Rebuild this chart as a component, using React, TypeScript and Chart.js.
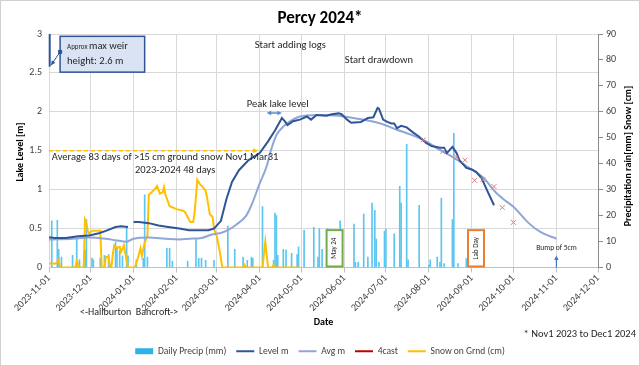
import React, { useEffect, useRef } from 'react';
import { Chart, registerables } from 'chart.js';
Chart.register(...registerables);

const FONT = 'Carlito, Lato, "Liberation Sans", sans-serif';

// ---------- data ----------
const tickLabels = ['2023-11-01','2023-12-01','2024-01-01','2024-02-01','2024-03-01','2024-04-01','2024-05-01','2024-06-01','2024-07-01','2024-08-01','2024-09-01','2024-10-01','2024-11-01','2024-12-01'];

const levelDates = ['2023-11-01','2023-11-05','2023-11-13','2023-11-22','2023-11-30','2023-12-07','2023-12-12','2023-12-19','2023-12-23','2023-12-28','2023-12-30','2024-01-01','2024-01-05','2024-01-12','2024-01-19','2024-01-26','2024-02-03','2024-02-10','2024-02-17','2024-02-24','2024-02-28','2024-03-04','2024-03-08','2024-03-12','2024-03-17','2024-03-24','2024-04-01','2024-04-07','2024-04-12','2024-04-17','2024-04-19','2024-04-21','2024-04-25','2024-04-30','2024-05-05','2024-05-08','2024-05-12','2024-05-19','2024-05-23','2024-05-28','2024-05-30','2024-06-03','2024-06-06','2024-06-13','2024-06-18','2024-06-22','2024-06-25','2024-06-26','2024-06-29','2024-07-02','2024-07-05','2024-07-07','2024-07-09','2024-07-12','2024-07-16','2024-07-21','2024-07-25','2024-07-30','2024-08-03','2024-08-09','2024-08-12','2024-08-14','2024-08-18','2024-08-21','2024-08-23','2024-08-28','2024-09-01','2024-09-04','2024-09-08','2024-09-12','2024-09-17'];
const levelValues = [0.39,0.38,0.38,0.40,0.41,0.44,0.47,0.52,0.53,0.52,null,0.585,0.585,0.57,0.54,0.52,0.50,0.48,0.48,0.48,0.50,0.60,0.88,1.10,1.25,1.38,1.47,1.62,1.76,1.92,1.88,1.83,1.88,1.90,1.94,1.90,1.96,1.95,1.97,1.98,1.97,1.90,1.86,1.87,1.92,1.93,2.05,2.04,1.90,1.87,1.85,1.85,1.79,1.82,1.80,1.73,1.68,1.60,1.56,1.54,1.54,1.47,1.55,1.47,1.38,1.28,1.26,1.23,1.15,0.99,0.80];

const avgDates = ['2023-11-01','2023-11-18','2023-11-30','2023-12-12','2023-12-19','2023-12-27','2024-01-01','2024-01-12','2024-01-24','2024-02-03','2024-02-10','2024-02-19','2024-02-26','2024-03-05','2024-03-10','2024-03-15','2024-03-22','2024-03-26','2024-04-01','2024-04-06','2024-04-09','2024-04-13','2024-04-18','2024-04-23','2024-04-30','2024-05-12','2024-05-28','2024-06-11','2024-06-27','2024-07-09','2024-07-20','2024-07-30','2024-08-07','2024-08-18','2024-08-30','2024-09-09','2024-09-18','2024-09-25','2024-10-01','2024-10-12','2024-10-21','2024-11-01'];
const avgValues = [0.36,0.37,0.385,0.37,0.35,0.33,0.37,0.385,0.37,0.36,0.37,0.38,0.42,0.45,0.49,0.55,0.66,0.80,1.08,1.30,1.50,1.70,1.81,1.88,1.94,1.96,1.95,1.91,1.85,1.77,1.70,1.62,1.53,1.42,1.28,1.16,0.97,0.86,0.78,0.57,0.45,0.37];

const forecastDates = ['2024-07-28','2024-08-11','2024-08-21','2024-08-27','2024-09-03','2024-09-09','2024-09-17','2024-09-23','2024-10-01'];
const forecastValues = [1.64,1.49,1.42,1.38,1.12,1.13,1.04,0.77,0.58];

const snowDates = ['2023-11-01','2023-11-06','2023-11-08','2023-11-09','2023-11-20','2023-11-21','2023-11-23','2023-11-26','2023-11-27','2023-11-28','2023-11-29','2023-11-30','2023-12-02','2023-12-08','2023-12-09','2023-12-11','2023-12-12','2023-12-14','2023-12-15','2023-12-16','2023-12-17','2023-12-18','2023-12-20','2023-12-22','2023-12-23','2023-12-25','2023-12-26','2023-12-28','2024-01-02','2024-01-04','2024-01-06','2024-01-07','2024-01-09','2024-01-11','2024-01-12','2024-01-14','2024-01-16','2024-01-18','2024-01-20','2024-01-22','2024-01-23','2024-01-24','2024-01-27','2024-02-01','2024-02-05','2024-02-07','2024-02-09','2024-02-11','2024-02-13','2024-02-14','2024-02-16','2024-02-18','2024-02-20','2024-02-22','2024-02-23','2024-02-25','2024-02-27','2024-02-28','2024-03-01','2024-03-03','2024-03-05','2024-03-20','2024-03-21','2024-03-22','2024-04-03','2024-04-05','2024-04-07','2024-04-10','2024-04-11','2024-04-12','2024-04-30'];
const snowValues = [1.5,1.5,3,0,0,2.5,0,0,18.4,17,14,13,14.2,14.2,0,0,4,4,0,0,5,8.5,7.5,8,6,8.5,5.5,0,0,3.5,7.4,4.5,9.5,12,28,29,30,31.4,28.5,29,31,28,23.6,22.5,22,21.5,19.5,17.5,17.5,21,33.8,32,31,29.5,27,20.5,19.5,15,12,6.7,0,0,1,0,0,10,0,0,1,0,0];

const precipDates = ['2023-11-03','2023-11-07','2023-11-08','2023-11-10','2023-11-18','2023-11-21','2023-11-23','2023-11-27','2023-11-28','2023-12-02','2023-12-03','2023-12-08','2023-12-11','2023-12-14','2023-12-19','2023-12-20','2023-12-22','2023-12-24','2023-12-27','2023-12-28','2024-01-03','2024-01-08','2024-01-09','2024-01-11','2024-01-25','2024-01-27','2024-01-29','2024-02-09','2024-02-15','2024-02-17','2024-02-19','2024-02-22','2024-02-28','2024-03-09','2024-03-14','2024-03-20','2024-03-23','2024-03-26','2024-03-27','2024-04-03','2024-04-11','2024-04-12','2024-04-13','2024-04-14','2024-04-18','2024-04-20','2024-04-24','2024-04-28','2024-04-29','2024-05-03','2024-05-10','2024-05-13','2024-05-14','2024-05-16','2024-05-20','2024-05-23','2024-05-29','2024-06-08','2024-06-09','2024-06-11','2024-06-15','2024-06-18','2024-06-21','2024-06-23','2024-06-24','2024-06-26','2024-06-30','2024-07-01','2024-07-07','2024-07-11','2024-07-12','2024-07-16','2024-07-17','2024-07-25','2024-08-01','2024-08-02','2024-08-07','2024-08-09','2024-08-10','2024-08-12','2024-08-18','2024-08-19','2024-08-22','2024-08-28'];
const precipValues = [18,18.2,7,4,4.7,11,3,6.7,18.5,3.6,3,3.7,4.7,5,9.8,8,6.5,4.5,15.6,4.5,3,3.5,28,4,7.4,7.4,2.5,2.5,10.8,3.5,3.6,2.8,2.8,16,7,4,2.8,4,3.5,23.5,2.8,21,20,4.7,7,6.7,5.5,5,8,14.3,15.5,4,15,7,15,5,18,16.7,2,2,20.6,4,24.8,22,11,2,14,14.8,13,31.3,24.8,47.5,3,24,1,3,4,2,26.8,1.5,18.5,51.7,1.5,3.4];

// ---------- helpers ----------
const START = Date.UTC(2023, 10, 1);
const dayOf = (s: string) => {
  const [y, m, d] = s.split('-').map(Number);
  return Math.round((Date.UTC(y, m - 1, d) - START) / 86400000);
};
const tickDays = tickLabels.map(dayOf);
const pts = (dates: string[], vals: (number | null)[]) => dates.map((d, i) => ({ x: dayOf(d), y: vals[i] }));

const COLORS = {
  precip: '#5CC6F0',
  precipLegend: '#2EB2E8',
  level: '#2F5597',
  avg: '#8FA6D6',
  fc: '#C00000',
  fcMark: '#E07C7C',
  snow: '#FFC000',
  grid: '#D9D9D9',
  text: '#404040',
};

function arrowHead(ctx: CanvasRenderingContext2D, x1: number, y1: number, x2: number, y2: number, size: number) {
  const a = Math.atan2(y2 - y1, x2 - x1);
  ctx.beginPath();
  ctx.moveTo(x2, y2);
  ctx.lineTo(x2 - size * Math.cos(a - 0.45), y2 - size * Math.sin(a - 0.45));
  ctx.lineTo(x2 - size * Math.cos(a + 0.45), y2 - size * Math.sin(a + 0.45));
  ctx.closePath();
  ctx.fill();
}

const decorPlugin = {
  id: 'decor',
  beforeDraw(chart: any) {
    const { ctx, width, height } = chart;
    ctx.save();
    ctx.fillStyle = '#fff';
    ctx.fillRect(0, 0, width, height);
    ctx.restore();
  },
  afterDatasetsDraw(chart: any) {
    const { ctx } = chart;
    const x = chart.scales.x, y = chart.scales.y, y1 = chart.scales.y1;
    const X = (d: string) => x.getPixelForValue(dayOf(d));
    ctx.save();
    ctx.textBaseline = 'middle';
    ctx.fillStyle = '#262626';

    // weir marker line at left
    ctx.strokeStyle = COLORS.level;
    ctx.lineWidth = 2;
    ctx.beginPath();
    ctx.moveTo(x.getPixelForValue(0.5), y.getPixelForValue(3));
    ctx.lineTo(x.getPixelForValue(0.5), y.getPixelForValue(2.58));
    ctx.stroke();

    // weir box
    const bx1 = X('2023-11-09'), bx2 = X('2024-01-09');
    const by1 = y.getPixelForValue(2.97), by2 = y.getPixelForValue(2.51);
    ctx.fillStyle = '#DAE3F3';
    ctx.fillRect(bx1, by1, bx2 - bx1, by2 - by1);
    ctx.strokeStyle = '#2F5597';
    ctx.lineWidth = 1.5;
    ctx.strokeRect(bx1, by1, bx2 - bx1, by2 - by1);
    // connector
    const cx1 = bx1, cy1 = y.getPixelForValue(2.77);
    const cx2 = x.getPixelForValue(1.5), cy2 = y.getPixelForValue(2.6);
    ctx.strokeStyle = '#2F5597';
    ctx.lineWidth = 1;
    ctx.beginPath(); ctx.moveTo(cx1, cy1); ctx.lineTo(cx2, cy2); ctx.stroke();
    ctx.fillStyle = '#2F5597';
    ctx.fillRect(cx1 - 2, cy1 - 2, 4, 4);
    arrowHead(ctx, cx1, cy1, cx2, cy2, 5);
    ctx.fillStyle = '#262626';
    ctx.textAlign = 'left';
    ctx.font = `7px ${FONT}`;
    ctx.fillText('Approx', bx1 + 7, by1 + 11);
    const w0 = ctx.measureText('Approx ').width;
    ctx.font = `10.5px ${FONT}`;
    ctx.fillText('max weir', bx1 + 7 + w0, by1 + 10);
    ctx.fillText('height: 2.6 m', bx1 + 7, by1 + 25);

    // texts in plot
    ctx.font = `10.5px ${FONT}`;
    ctx.textAlign = 'center';
    ctx.fillText('Start adding logs', X('2024-04-23'), y.getPixelForValue(2.86));
    ctx.fillText('Start drawdown', X('2024-06-26'), y.getPixelForValue(2.665));
    ctx.fillText('Peak lake level', X('2024-04-14'), y.getPixelForValue(2.1));
    ctx.fillText('2023-2024 48 days', X('2024-01-31'), y.getPixelForValue(1.25));
    ctx.textAlign = 'left';
    ctx.fillText('Average 83 days of >15 cm ground snow Nov1 Mar31', x.getPixelForValue(2), y.getPixelForValue(1.416));

    // peak double arrow
    const py = y.getPixelForValue(1.985);
    const pa = X('2024-04-06'), pb = X('2024-04-17');
    ctx.strokeStyle = '#5B8BD0';
    ctx.fillStyle = '#5B8BD0';
    ctx.lineWidth = 1.5;
    ctx.beginPath(); ctx.moveTo(pa + 3, py); ctx.lineTo(pb - 3, py); ctx.stroke();
    arrowHead(ctx, pb, py, pa, py, 5);
    arrowHead(ctx, pa, py, pb, py, 5);

    // dashed snow arrow
    const sy = y.getPixelForValue(1.5);
    const sa = x.getPixelForValue(0), sb = X('2024-03-31');
    ctx.strokeStyle = COLORS.snow;
    ctx.fillStyle = COLORS.snow;
    ctx.lineWidth = 1.5;
    ctx.setLineDash([4, 3]);
    ctx.beginPath(); ctx.moveTo(sa, sy); ctx.lineTo(sb - 4, sy); ctx.stroke();
    ctx.setLineDash([]);
    arrowHead(ctx, sa, sy, sb, sy, 6);

    // May 24 / Lab Day boxes
    const box = (d: string, color: string, label: string) => {
      const cx = X(d);
      const t = y1.getPixelForValue(14.4), b = y1.getPixelForValue(0.4);
      ctx.fillStyle = '#fff';
      ctx.fillRect(cx - 8, t, 16, b - t);
      ctx.strokeStyle = color;
      ctx.lineWidth = 2;
      ctx.strokeRect(cx - 8, t, 16, b - t);
      ctx.save();
      ctx.translate(cx, (t + b) / 2);
      ctx.rotate(-Math.PI / 2);
      ctx.fillStyle = '#262626';
      ctx.textAlign = 'center';
      ctx.font = `7px ${FONT}`;
      ctx.fillText(label, 0, 0);
      ctx.restore();
    };
    box('2024-05-25', '#70AD47', 'May 24');
    box('2024-09-04', '#ED7D31', 'Lab Day');

    // Bump of 5cm
    const bxp = X('2024-11-01');
    ctx.fillStyle = '#262626';
    ctx.textAlign = 'center';
    ctx.font = `7.5px ${FONT}`;
    ctx.fillText('Bump of 5cm', bxp, y1.getPixelForValue(7.4));
    ctx.strokeStyle = '#4472C4';
    ctx.fillStyle = '#4472C4';
    ctx.lineWidth = 1.2;
    const by0 = y1.getPixelForValue(0), byt = y1.getPixelForValue(4.6);
    ctx.beginPath(); ctx.moveTo(bxp, by0); ctx.lineTo(bxp, byt + 3); ctx.stroke();
    arrowHead(ctx, bxp, by0, bxp, byt, 5);
    ctx.restore();
  },
  afterDraw(chart: any) {
    const { ctx, width, height, chartArea } = chart;
    ctx.save();
    ctx.fillStyle = '#000';
    ctx.textBaseline = 'middle';
    ctx.textAlign = 'center';
    ctx.font = `bold 17px ${FONT}`;
    ctx.fillText('Percy 2024*', 320, 19);

    ctx.font = `bold 10px ${FONT}`;
    ctx.fillText('Date', (chartArea.left + chartArea.right) / 2, 322);

    ctx.save();
    ctx.translate(20, 152);
    ctx.rotate(-Math.PI / 2);
    ctx.fillText('Lake Level [m]', 0, 0);
    ctx.restore();
    ctx.save();
    ctx.translate(628, 156);
    ctx.rotate(-Math.PI / 2);
    ctx.fillText('Precipitation rain[mm] Snow [cm]', 0, 0);
    ctx.restore();

    ctx.fillStyle = '#262626';
    ctx.font = `10px ${FONT}`;
    ctx.fillText('<-Haliburton  Bancroft->', 129, 312);
    ctx.textAlign = 'right';
    ctx.font = `10.5px ${FONT}`;
    ctx.fillText('* Nov1 2023 to Dec1 2024', 636, 334);

    ctx.strokeStyle = '#D0D0D0';
    ctx.lineWidth = 1;
    ctx.strokeRect(0.5, 0.5, width - 1, height - 1);
    ctx.restore();
  },
};

export default function App() {
  const ref = useRef<HTMLCanvasElement>(null);
  useEffect(() => {
    if (!ref.current) return;
    const chart = new Chart(ref.current, {
      type: 'line',
      data: {
        datasets: [
          {
            type: 'bar', label: 'Daily Precip (mm)', data: pts(precipDates, precipValues) as any,
            yAxisID: 'y1', backgroundColor: COLORS.precip, barThickness: 1, grouped: false, order: 5,
          } as any,
          {
            label: 'Level m', data: pts(levelDates, levelValues) as any, yAxisID: 'y',
            borderColor: COLORS.level, borderWidth: 2, pointRadius: 0, spanGaps: false, tension: 0, order: 1,
          },
          {
            label: 'Avg m', data: pts(avgDates, avgValues) as any, yAxisID: 'y',
            borderColor: COLORS.avg, borderWidth: 2, pointRadius: 0, cubicInterpolationMode: 'monotone', order: 2,
          },
          {
            label: '4cast', data: pts(forecastDates, forecastValues) as any, yAxisID: 'y',
            borderColor: COLORS.fcMark, showLine: false, pointStyle: 'crossRot', pointRadius: 3.5,
            pointBorderWidth: 1, pointBorderColor: COLORS.fcMark, order: 0,
          },
          {
            label: 'Snow on Grnd (cm)', data: pts(snowDates, snowValues) as any, yAxisID: 'y1',
            borderColor: COLORS.snow, borderWidth: 2, pointRadius: 0, tension: 0, order: 3,
          },
        ],
      },
      options: {
        animation: false,
        responsive: true,
        maintainAspectRatio: false,
        layout: { padding: { top: 34, left: 0, right: 0, bottom: 0 } },
        plugins: {
          title: { display: false },
          tooltip: { enabled: false },
          legend: {
            position: 'bottom',
            labels: {
              usePointStyle: true,
              pointStyleWidth: 18,
              boxHeight: 6,
              padding: 10,
              color: '#404040',
              font: { size: 9.5, family: FONT },
              generateLabels: (c: any) => c.data.datasets.map((ds: any, i: number) => ({
                text: ds.label,
                fillStyle: i === 0 ? COLORS.precipLegend : 'transparent',
                strokeStyle: i === 0 ? COLORS.precipLegend : i === 3 ? COLORS.fc : ds.borderColor,
                lineWidth: i === 0 ? 0 : 2,
                pointStyle: i === 0 ? 'rect' : 'line',
                hidden: false,
                datasetIndex: i,
                fontColor: '#404040',
              })),
            },
          },
        },
        scales: {
          x: {
            type: 'linear', min: 0, max: dayOf('2024-12-01'), offset: false,
            afterBuildTicks: (s: any) => { s.ticks = tickDays.map((v) => ({ value: v })); },
            afterFit: (s: any) => { s.height = 69; },
            grid: { color: COLORS.grid, offset: false, tickLength: 5, tickColor: '#BFBFBF' },
            border: { color: '#BFBFBF' },
            ticks: {
              autoSkip: false, minRotation: 45, maxRotation: 45, color: '#404040', padding: 0,
              font: { size: 10, family: FONT },
              callback: (v: any) => { const i = tickDays.indexOf(Number(v)); return i >= 0 ? tickLabels[i] : ''; },
            },
          },
          y: {
            type: 'linear', position: 'left', min: 0, max: 3,
            afterFit: (s: any) => { s.width = 49; },
            grid: { color: COLORS.grid, drawTicks: false },
            border: { color: COLORS.grid },
            ticks: { stepSize: 0.5, color: '#404040', padding: 7, font: { size: 10, family: FONT }, callback: (v: any) => String(v) },
          },
          y1: {
            type: 'linear', position: 'right', min: 0, max: 90,
            afterFit: (s: any) => { s.width = 42; },
            grid: { drawOnChartArea: false, tickLength: 5, tickColor: '#8C8C8C' },
            border: { color: '#8C8C8C' },
            ticks: { stepSize: 10, color: '#404040', padding: 3, font: { size: 10, family: FONT } },
          },
        },
      },
      plugins: [decorPlugin],
    } as any);
    return () => chart.destroy();
  }, []);
  return (
    <div style={{ position: 'fixed', left: 0, top: 0, width: 640, height: 366 }}>
      <canvas ref={ref} />
    </div>
  );
}
